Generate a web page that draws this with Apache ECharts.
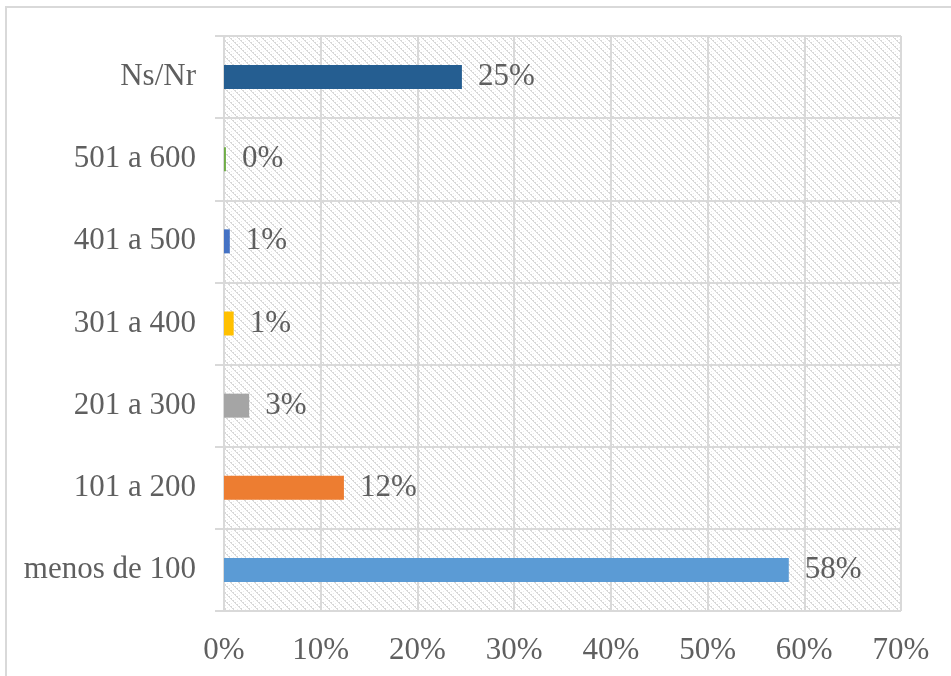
<!DOCTYPE html>
<html><head><meta charset="utf-8">
<script src="https://cdn.jsdelivr.net/npm/echarts@6/dist/echarts.min.js"></script>
<style>html,body{margin:0;padding:0;background:#fff}#c{width:951px;height:676px}</style>
</head><body><div id="c"></div>
<script>
const categories = ['menos de 100','101 a 200','201 a 300','301 a 400','401 a 500','501 a 600','Ns/Nr'];
const values = [58.4, 12.4, 2.6, 1.0, 0.6, 0.2, 24.6];
const barColors = ['#5B9BD5','#ED7D31','#A5A5A5','#FFC000','#4472C4','#70AD47','#255E91'];
const xTicks = [0,10,20,30,40,50,60,70];

function makePattern(){
  const c = document.createElement('canvas');
  c.width = 8; c.height = 8;
  const g = c.getContext('2d');
  g.fillStyle = '#ffffff'; g.fillRect(0,0,8,8);
  for (let i = 0; i < 8; i++) {
    g.fillStyle = '#d8d8d8';
    g.fillRect(i, i, 1, 1);
    if (i % 2 === 0) g.fillRect((i+1)%8, i, 1, 1);
    g.fillStyle = '#ececec';
    if (i % 2 === 1) g.fillRect((i+4)%8, i, 1, 1);
  }
  return c;
}

const font = 'Liberation Serif';
const txt = '#5f5f5f';
const chart = echarts.init(document.getElementById('c'));
chart.setOption({
  animation: false,
  backgroundColor: '#fff',
  graphic: [{type:'rect', shape:{x:6,y:7,width:980,height:700}, style:{fill:'none', stroke:'#d9d9d9', lineWidth:2}, z:-1}],
  grid: {left:224, right:50, top:36, bottom:65, show:true, backgroundColor:{image: makePattern(), repeat:'repeat'}, borderWidth:0},
  xAxis: {
    type:'value', min:0, max:70, interval:10,
    axisLine:{show:false}, axisTick:{show:false},
    splitLine:{show:true, lineStyle:{color:'#d9d9d9', width:2}},
    axisLabel:{color:txt, fontFamily:font, fontSize:31, margin:24, formatter: v => v + '%'}
  },
  yAxis: {
    type:'category', data: categories,
    axisLine:{show:true, lineStyle:{color:'#d9d9d9', width:2}},
    axisTick:{show:true, length:9, lineStyle:{color:'#d9d9d9', width:2}},
    splitLine:{show:true, lineStyle:{color:'#d9d9d9', width:2}},
    axisLabel:{color:txt, fontFamily:font, fontSize:31, margin:28}
  },
  series: [{
    type:'bar', barWidth:24,
    data: values.map((v,i) => ({value:v, itemStyle:{color:barColors[i]}})),
    label:{show:true, position:'right', distance:16, color:txt, fontFamily:font, fontSize:31,
      formatter: p => Math.round(p.value) + '%'}
  }]
});
</script></body></html>
